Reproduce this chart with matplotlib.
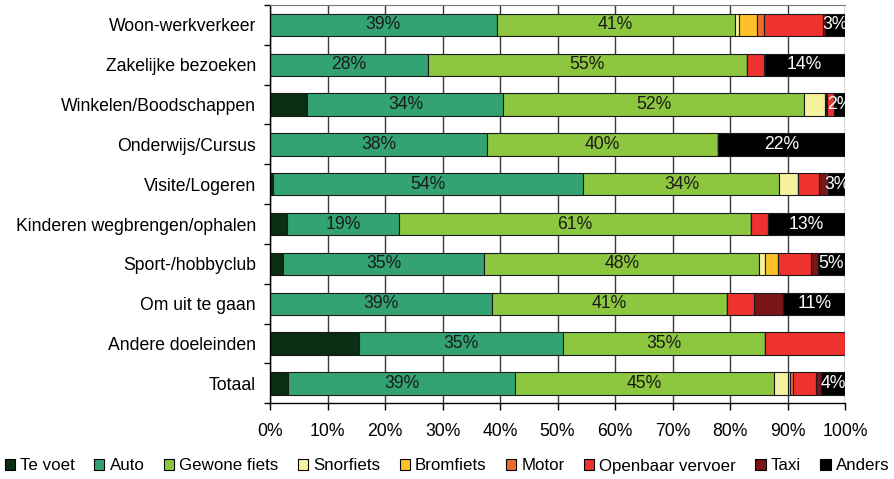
import matplotlib
matplotlib.use("Agg")
import matplotlib.pyplot as plt
from matplotlib.patches import Patch
import numpy as np

plt.rcParams['font.family'] = ['Liberation Sans', 'DejaVu Sans']

# trip purposes, top to bottom
doelen = ["Woon-werkverkeer", "Zakelijke bezoeken", "Winkelen/Boodschappen",
          "Onderwijs/Cursus", "Visite/Logeren", "Kinderen wegbrengen/ophalen",
          "Sport-/hobbyclub", "Om uit te gaan", "Andere doeleinden", "Totaal"]

# share per mode of transport (%)
te_voet   = [0.0, 0.0, 6.5, 0.0, 0.5, 3.0, 2.3, 0.0, 15.5, 3.2]
auto      = [39.4, 27.5, 34.1, 37.8, 54.0, 19.4, 35.0, 38.6, 35.4, 39.4]
fiets     = [41.4, 55.4, 52.2, 40.1, 34.1, 61.3, 47.8, 40.9, 35.2, 45.1]
snorfiets = [0.8, 0.0, 3.7, 0.0, 3.2, 0.0, 1.0, 0.0, 0.0, 2.3]
bromfiets = [3.1, 0.0, 0.2, 0.0, 0.0, 0.0, 2.2, 0.0, 0.0, 0.5]
motor     = [1.2, 0.0, 0.2, 0.0, 0.0, 0.0, 0.0, 0.0, 0.0, 0.4]
ov        = [10.3, 3.1, 1.2, 0.0, 3.7, 2.9, 5.8, 4.6, 13.9, 4.1]
taxi      = [0.4, 0.0, 0.0, 0.0, 1.6, 0.0, 1.2, 5.2, 0.0, 0.8]
anders    = [3.4, 14.0, 1.9, 22.1, 2.9, 13.4, 4.7, 10.7, 0.0, 4.2]

modes = ["Te voet", "Auto", "Gewone fiets", "Snorfiets", "Bromfiets",
         "Motor", "Openbaar vervoer", "Taxi", "Anders"]
series = [te_voet, auto, fiets, snorfiets, bromfiets, motor, ov, taxi, anders]
colors = ["#0c2e12", "#33a374", "#8dc63f", "#f6f29d", "#fdc12a",
          "#ef6a2b", "#ee3230", "#7a1517", "#000000"]
labelled = {"Auto": "#1a1a1a", "Gewone fiets": "#1a1a1a", "Anders": "white"}

FS = 12.7

fig = plt.figure(figsize=(8.94, 4.79), dpi=100)
ax = fig.add_axes([270/894, 1 - 403.3/479, 575/894, 398.3/479])

y = np.arange(len(doelen))
left = np.zeros(len(doelen))
for name, vals, col in zip(modes, series, colors):
    vals = np.array(vals)
    ax.barh(y, vals, left=left, height=0.56, color=col,
            edgecolor="#1a1a1a", linewidth=0.8, zorder=2)
    if name in labelled:
        for yi, (l, v) in enumerate(zip(left, vals)):
            if v > 0:
                ax.text(l + v / 2, yi, f"{round(v)}%", ha="center", va="center",
                        fontsize=FS, color=labelled[name], zorder=3,
                        clip_on=True)
    left += vals

ax.set_xlim(0, 100)
ax.set_ylim(len(doelen) - 0.5, -0.5)
ax.set_xticks(np.arange(0, 101, 10))
ax.set_xticklabels([f"{v}%" for v in range(0, 101, 10)])
ax.set_yticks(y)
ax.set_yticklabels(doelen)
ax.set_yticks(np.arange(-0.5, len(doelen), 1), minor=True)

ax.grid(axis="x", color="#3a3a3a", linewidth=1, zorder=0)
ax.set_axisbelow(True)

ax.tick_params(axis="y", which="major", length=0, pad=10, labelsize=FS)
ax.tick_params(axis="y", which="minor", length=4, width=1, direction="out")
ax.tick_params(axis="x", length=5, width=1, direction="out", pad=9,
               labelsize=FS)

ax.spines["right"].set_visible(False)
ax.spines["top"].set_color("#777777")
for s in ("left", "bottom"):
    ax.spines[s].set_color("black")
    ax.spines[s].set_linewidth(1)

# legend row along the bottom
handles = [Patch(facecolor=c, edgecolor="black", linewidth=0.8, label=m)
           for m, c in zip(modes, colors)]
fig.legend(handles=handles, loc="center", bbox_to_anchor=(0.5, 1 - 466/479),
           ncol=len(modes), frameon=False, fontsize=12.2, handlelength=0.6,
           handleheight=0.6, handletextpad=0.3, columnspacing=1.15,
           borderaxespad=0, borderpad=0)

fig.savefig("out.png", dpi=100)
